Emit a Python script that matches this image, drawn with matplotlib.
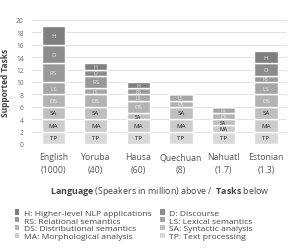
import matplotlib
matplotlib.use("Agg")
import matplotlib.pyplot as plt
import numpy as np
from matplotlib.patches import Patch

languages = ["English\n(1000)", "Yoruba\n(40)", "Hausa\n(60)", "Quechuan\n(8)", "Nahuatl\n(1.7)", "Estonian\n(1.3)"]
task_keys = ["TP", "MA", "SA", "DS", "LS", "RS", "D", "H"]
task_names = ["Text processing", "Morphological analysis", "Syntactic analysis",
              "Distributional semantics", "Lexical semantics", "Relational semantics",
              "Discourse", "Higher-level NLP applications"]
TP = [2, 2, 2, 2, 2, 2]
MA = [2, 2, 2, 2, 1, 2]
SA = [2, 2, 1, 2, 1, 2]
DS = [2, 2, 2, 1, 1, 2]
LS = [2, 1, 1, 1, 1, 2]
RS = [3, 2, 1, 0, 0, 1]
D = [3, 1, 0, 0, 0, 2]
H = [3, 1, 1, 0, 0, 2]
series = [TP, MA, SA, DS, LS, RS, D, H]
colors = ["#d9d9d9", "#cccccc", "#bfbfbf", "#b3b3b3", "#a6a6a6", "#999999", "#8c8c8c", "#7f7f7f"]
text_colors = ["#222222", "#222222", "#222222", "#eeeeee", "#eeeeee", "#eeeeee", "#eeeeee", "#eeeeee"]

plt.rcParams['font.family'] = ['Open Sans', 'DejaVu Sans']
plt.rcParams['mathtext.fontset'] = 'custom'
plt.rcParams['mathtext.rm'] = 'Open Sans'
plt.rcParams['mathtext.bf'] = 'Open Sans:bold'

fig = plt.figure(figsize=(2.93, 2.53), dpi=100)
ax = fig.add_axes([0.109, 0.427, 0.871, 0.49])

x = np.arange(len(languages))
bottom = np.zeros(len(languages))
for key, vals, c, tc in zip(task_keys, series, colors, text_colors):
    vals = np.array(vals, dtype=float)
    ax.bar(x, vals, 0.55, bottom=bottom, color=c, edgecolor="white", linewidth=1.0, zorder=3)
    for xi, v, b in zip(x, vals, bottom):
        if v > 0:
            fs = 4.4 if v >= 2 else 3.8
            ax.text(xi, b + v / 2, key, ha="center", va="center", fontsize=fs, color=tc, zorder=4)
    bottom += vals

ax.set_ylim(0, 20)
ax.set_xlim(-0.5, len(languages) - 0.5)
ax.set_yticks(range(0, 21, 2))
ax.yaxis.grid(True, color="#e3e3e3", linewidth=0.7, zorder=0)
ax.set_axisbelow(True)
for s in ax.spines.values():
    s.set_visible(False)
ax.tick_params(axis="both", length=0)
ax.tick_params(axis="y", labelsize=4.8, labelcolor="#666666", pad=6)
ax.set_xticks(x)
ax.set_xticklabels(languages, fontsize=6.3, color="#555555", linespacing=1.5)
ax.tick_params(axis="x", pad=6)
ax.set_ylabel("Supported Tasks", fontsize=6, color="#444444", fontweight="bold", labelpad=4)
ax.set_xlabel(r"$\bf{Language}$ (Speakers in million) above /  $\bf{Tasks}$ below",
              fontsize=6.4, color="#444444", labelpad=7)

order = ["H", "RS", "DS", "MA", "D", "LS", "SA", "TP"]
leg_handles = []
leg_labels = []
for k in order:
    i = task_keys.index(k)
    leg_handles.append(Patch(facecolor=colors[i], edgecolor="none"))
    leg_labels.append(f"{k}: {task_names[i]}")
fig.legend(leg_handles, leg_labels, loc="upper left", bbox_to_anchor=(0.05, 0.168), ncol=2,
           frameon=False, fontsize=6.1, handlelength=0.55, handleheight=0.55, handletextpad=0.5,
           columnspacing=1.1, labelspacing=0.02, labelcolor="#444444", borderpad=0, borderaxespad=0)

fig.savefig("out.png", dpi=100)
